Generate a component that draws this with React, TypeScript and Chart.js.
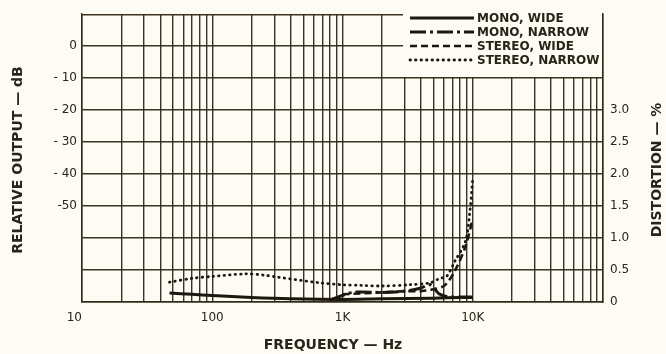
import { useEffect, useRef } from 'react';
import { Chart, registerables } from 'chart.js';

Chart.register(...registerables);

// ---- data ----
const xLabelValues = [10, 100, 1000, 10000];
const xLabelTexts = ['10', '100', '1K', '10K'];
const dbTickValues = [0, -10, -20, -30, -40, -50];
const dbTickLabels = ['0', '- 10', '- 20', '- 30', '- 40', '-50'];
const distTickValues = [0, 0.5, 1.0, 1.5, 2.0, 2.5, 3.0];
const distTickLabels = ['0', '0.5', '1.0', '1.5', '2.0', '2.5', '3.0'];

const seriesNames = ['MONO, WIDE', 'MONO, NARROW', 'STEREO, WIDE', 'STEREO, NARROW'];

const monoWideFreq = [47, 70, 100, 200, 400, 1000, 2000, 5000, 8000, 10000];
const monoWideDist = [0.14, 0.12, 0.1, 0.07, 0.05, 0.04, 0.05, 0.06, 0.07, 0.07];

const monoNarrowFreq = [800, 1200, 2000, 3000, 4000, 4700, 5500, 6500, 8000, 10000];
const monoNarrowDist = [0.03, 0.15, 0.15, 0.17, 0.22, 0.27, 0.13, 0.08, 0.08, 0.08];

const stereoWideFreq = [1000, 2000, 3000, 4000, 5000, 6100, 7300, 8800, 10000];
const stereoWideDist = [0.12, 0.15, 0.17, 0.17, 0.2, 0.26, 0.49, 0.87, 1.3];

const stereoNarrowFreq = [47, 70, 100, 180, 250, 315, 670, 1000, 1400, 2000, 3300, 4700, 5600, 6300, 7300, 8800, 9500, 10000];
const stereoNarrowDist = [0.31, 0.37, 0.4, 0.44, 0.42, 0.39, 0.3, 0.27, 0.26, 0.25, 0.27, 0.3, 0.37, 0.4, 0.64, 0.95, 1.41, 1.93];

// ---- style ----
const BG = '#fcfbf4';
const GRID = 'rgba(50,40,24,0.95)';
const INK = '#1c1810';
const TEXT = '#2a2418';

const zip = (xs: number[], ys: number[]) => xs.map((x, i) => ({ x, y: ys[i] }));

const overlay = {
  id: 'overlay',
  beforeDraw(chart: any) {
    const ctx = chart.ctx;
    ctx.save();
    ctx.fillStyle = BG;
    ctx.fillRect(0, 0, chart.width, chart.height);
    ctx.restore();
  },
  afterDraw(chart: any) {
    const ctx = chart.ctx;
    ctx.save();
    // legend box
    ctx.fillStyle = BG;
    ctx.fillRect(403, 10.5, 199, 66.5);
    const rows = [18, 32, 46, 60];
    chart.data.datasets.forEach((ds: any, i: number) => {
      ctx.save();
      ctx.strokeStyle = ds.borderColor;
      ctx.lineWidth = ds.borderWidth;
      ctx.lineCap = ds.borderCapStyle || 'butt';
      ctx.setLineDash(ds.borderDash || []);
      ctx.beginPath();
      ctx.moveTo(410, rows[i]);
      ctx.lineTo(474, rows[i]);
      ctx.stroke();
      ctx.restore();
      ctx.fillStyle = TEXT;
      ctx.font = 'bold 12px "DejaVu Sans"';
      ctx.textBaseline = 'middle';
      ctx.textAlign = 'left';
      ctx.fillText(ds.label, 477, rows[i] + 0.5);
    });
    // axis titles
    ctx.fillStyle = TEXT;
    ctx.font = 'bold 14px "DejaVu Sans"';
    ctx.textAlign = 'center';
    ctx.textBaseline = 'middle';
    ctx.fillText('FREQUENCY — Hz', 333, 345);
    ctx.save();
    ctx.translate(18, 160);
    ctx.rotate(-Math.PI / 2);
    ctx.fillText('RELATIVE OUTPUT — dB', 0, 0);
    ctx.restore();
    ctx.save();
    ctx.translate(657, 170);
    ctx.rotate(-Math.PI / 2);
    ctx.fillText('DISTORTION — %', 0, 0);
    ctx.restore();
    ctx.restore();
  },
};

export default function App() {
  const ref = useRef<HTMLCanvasElement | null>(null);
  useEffect(() => {
    if (!ref.current) return;
    const xTicks: number[] = [];
    for (let d = 10; d < 100000; d *= 10) {
      for (let m = 1; m <= 9; m++) xTicks.push(d * m);
    }
    xTicks.push(100000);
    const tickFont = { family: '"DejaVu Sans"', size: 12 };
    const chart = new Chart(ref.current, {
      type: 'line',
      data: {
        datasets: [
          {
            label: seriesNames[0],
            data: zip(monoWideFreq, monoWideDist),
            borderColor: INK, borderWidth: 3, borderDash: [],
            yAxisID: 'y2', pointRadius: 0, tension: 0.3, fill: false,
          },
          {
            label: seriesNames[1],
            data: zip(monoNarrowFreq, monoNarrowDist),
            borderColor: INK, borderWidth: 3, borderDash: [16, 4, 3, 4],
            yAxisID: 'y2', pointRadius: 0, tension: 0.3, fill: false,
          },
          {
            label: seriesNames[2],
            data: zip(stereoWideFreq, stereoWideDist),
            borderColor: INK, borderWidth: 2.6, borderDash: [7, 4],
            yAxisID: 'y2', pointRadius: 0, tension: 0.3, fill: false,
          },
          {
            label: seriesNames[3],
            data: zip(stereoNarrowFreq, stereoNarrowDist),
            borderColor: INK, borderWidth: 2.8, borderDash: [0.5, 5], borderCapStyle: 'round',
            yAxisID: 'y2', pointRadius: 0, tension: 0.3, fill: false,
          },
        ] as any,
      },
      options: {
        animation: false,
        responsive: true,
        maintainAspectRatio: false,
        layout: { padding: { top: 9, left: 0, right: 0, bottom: 0 } },
        plugins: { legend: { display: false }, tooltip: { enabled: false } },
        scales: {
          x: {
            type: 'logarithmic',
            min: 10,
            max: 100000,
            afterBuildTicks: (s: any) => { s.ticks = xTicks.map((v) => ({ value: v })); },
            afterFit: (s: any) => { s.height = 52; },
            ticks: {
              autoSkip: false, maxRotation: 0, padding: 9, color: TEXT, font: tickFont,
              callback: (v: any) => {
                const i = xLabelValues.indexOf(Number(v));
                if (i < 0) return '';
                return i === 0 ? xLabelTexts[i] + '    ' : xLabelTexts[i];
              },
            },
            grid: { color: GRID, lineWidth: 1.4, drawTicks: false },
            border: { color: GRID, width: 1.5 },
          },
          y: {
            type: 'linear', position: 'left', min: -80, max: 10,
            afterBuildTicks: (s: any) => {
              const t = [];
              for (let v = -80; v <= 10; v += 10) t.push({ value: v });
              s.ticks = t;
            },
            afterFit: (s: any) => { s.width = 82; },
            ticks: {
              padding: 5, color: TEXT, font: tickFont, autoSkip: false,
              callback: (v: any) => {
                const i = dbTickValues.indexOf(Number(v));
                return i >= 0 ? dbTickLabels[i] : '';
              },
            },
            grid: { color: GRID, lineWidth: 1.4, drawTicks: false },
            border: { color: GRID, width: 1.5 },
          },
          y2: {
            type: 'linear', position: 'right', min: 0, max: 4.5,
            afterBuildTicks: (s: any) => {
              const t = [];
              for (let k = 0; k <= 9; k++) t.push({ value: k * 0.5 });
              s.ticks = t;
            },
            afterFit: (s: any) => { s.width = 63; },
            ticks: {
              padding: 7, color: TEXT, font: tickFont, autoSkip: false,
              callback: (v: any) => {
                const i = distTickValues.findIndex((d) => Math.abs(d - Number(v)) < 1e-6);
                return i >= 0 ? distTickLabels[i] : '';
              },
            },
            grid: { drawOnChartArea: false, drawTicks: false },
            border: { color: GRID, width: 1.5 },
          },
        },
      } as any,
      plugins: [overlay],
    });
    return () => chart.destroy();
  }, []);
  return (
    <div style={{ position: 'fixed', left: 0, top: 0, width: 666, height: 354, background: BG }}>
      <canvas ref={ref} />
    </div>
  );
}
